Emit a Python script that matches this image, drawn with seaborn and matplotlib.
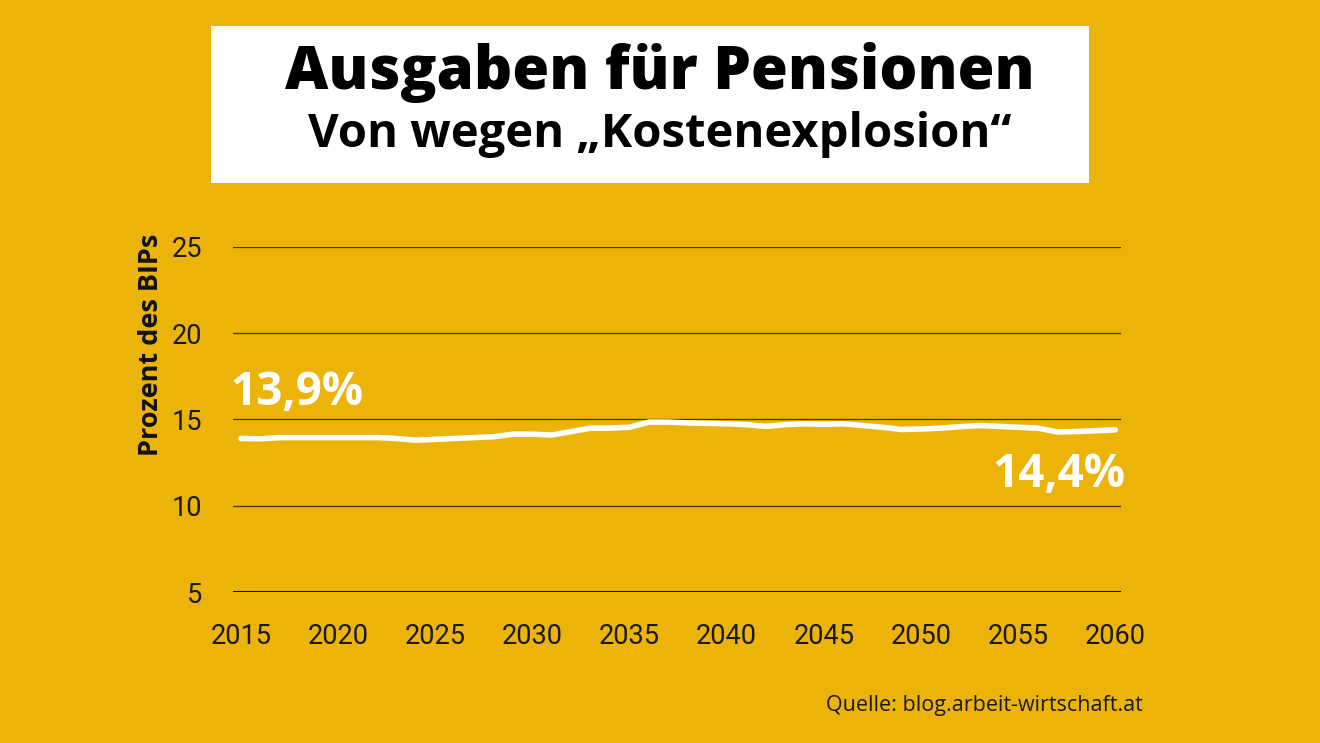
import matplotlib
matplotlib.use('Agg')
import matplotlib.pyplot as plt
import seaborn as sns
import pandas as pd
from matplotlib.patches import Rectangle

# data (Pensionsausgaben in % des BIP)
years = list(range(2015, 2061))
values = [13.9, 13.88, 13.95, 13.95, 13.95, 13.95, 13.95, 13.95, 13.9, 13.8,
          13.85, 13.9, 13.95, 14.0, 14.15, 14.15, 14.1, 14.3, 14.5, 14.5,
          14.55, 14.85, 14.85, 14.8, 14.78, 14.75, 14.7, 14.6, 14.7, 14.75,
          14.72, 14.75, 14.65, 14.55, 14.42, 14.45, 14.5, 14.58, 14.65, 14.6,
          14.55, 14.5, 14.28, 14.3, 14.35, 14.4]
y_ticks = [5, 10, 15, 20, 25]
x_ticks = [2015, 2020, 2025, 2030, 2035, 2040, 2045, 2050, 2055, 2060]

df = pd.DataFrame({'Jahr': years, 'Prozent': values})

bg = '#ECB308'
sns.set_style('white')
plt.rcParams['font.family'] = ['Roboto', 'DejaVu Sans']

fig = plt.figure(figsize=(13.2, 7.43), dpi=100, facecolor=bg)
ax = fig.add_axes([0.1765, 0.2032, 0.673, 0.4644], facecolor=bg)

for v in y_ticks[1:]:
    ax.axhline(v, color='#3d3200', lw=0.9, zorder=1)
ax.axhline(5, color='black', lw=2.2, zorder=2)

sns.lineplot(data=df, x='Jahr', y='Prozent', color='white', lw=4, ax=ax, zorder=3)

ax.set_xlim(2014.59, 2060.31)
ax.set_ylim(5, 25)
ax.set_xticks(x_ticks)
ax.set_yticks(y_ticks)
ax.tick_params(axis='both', length=0, labelsize=19.5, colors='#1a1a1a')
ax.tick_params(axis='y', pad=22)
ax.tick_params(axis='x', pad=22)
for s in ax.spines.values():
    s.set_visible(False)
ax.set_xlabel('')
ax.set_ylabel('Prozent des BIPs', fontsize=19.5, fontweight='bold',
              family=['Open Sans', 'DejaVu Sans'], color='#111111')
ax.yaxis.set_label_coords(-0.078, 0.716)

ax.text(2014.43, 16.57, '13,9%', color='white', fontsize=33, fontweight='bold',
        family=['Open Sans', 'DejaVu Sans'], ha='left', va='center', clip_on=False)
ax.text(2060.5, 11.8, '14,4%', color='white', fontsize=33, fontweight='bold',
        family=['Open Sans', 'DejaVu Sans'], ha='right', va='center', clip_on=False)

# title box
fig.patches.append(Rectangle((0.1598, 0.7537), 0.6652, 0.2113, transform=fig.transFigure,
                             facecolor='white', edgecolor='none', zorder=0))
fig.text(0.5, 0.903, 'Ausgaben für Pensionen', ha='center', va='center',
         fontsize=43, fontweight='heavy', family=['Open Sans', 'DejaVu Sans'], color='black')
fig.text(0.5, 0.819, 'Von wegen „Kostenexplosion“', ha='center', va='center',
         fontsize=34, fontweight='bold', family=['Open Sans', 'DejaVu Sans'], color='black')

fig.text(0.866, 0.05, 'Quelle: blog.arbeit-wirtschaft.at', ha='right', va='center',
         fontsize=15.5, family=['Open Sans', 'DejaVu Sans'], color='#1a1a1a')

fig.savefig('out.png', dpi=100, facecolor=bg)
